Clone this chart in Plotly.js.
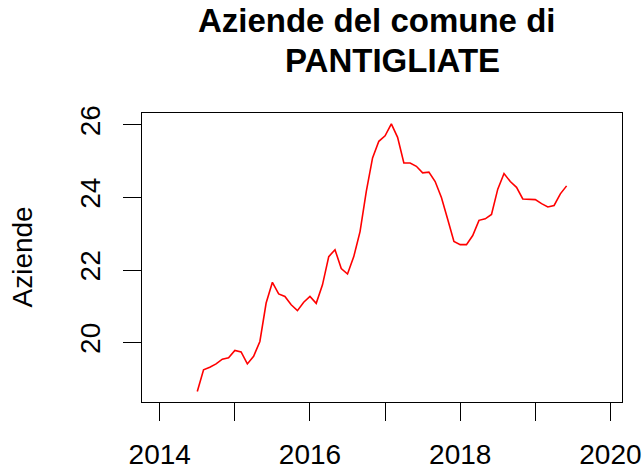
<!DOCTYPE html>
<html>
<head>
<meta charset="utf-8">
<script src="https://cdn.plot.ly/plotly-3.0.1.min.js"></script>
<style>html,body{margin:0;padding:0;background:#fff;}#chart{width:644px;height:469px;}</style>
</head>
<body>
<div id="chart"></div>
<script>
// Monthly observations (year-month)
const months = [
  "2014-07","2014-08","2014-09","2014-10","2014-11","2014-12",
  "2015-01","2015-02","2015-03","2015-04","2015-05","2015-06","2015-07","2015-08","2015-09","2015-10","2015-11","2015-12",
  "2016-01","2016-02","2016-03","2016-04","2016-05","2016-06","2016-07","2016-08","2016-09","2016-10","2016-11","2016-12",
  "2017-01","2017-02","2017-03","2017-04","2017-05","2017-06","2017-07","2017-08","2017-09","2017-10","2017-11","2017-12",
  "2018-01","2018-02","2018-03","2018-04","2018-05","2018-06","2018-07","2018-08","2018-09","2018-10","2018-11","2018-12",
  "2019-01","2019-02","2019-03","2019-04","2019-05","2019-06"
];
const aziende = [
  18.65,19.25,19.32,19.41,19.54,19.58,
  19.78,19.74,19.41,19.62,20.03,21.09,21.66,21.34,21.27,21.04,20.88,21.11,
  21.27,21.08,21.59,22.37,22.56,22.04,21.89,22.37,23.06,24.17,25.09,25.55,
  25.70,26.03,25.66,24.95,24.95,24.86,24.68,24.70,24.44,24.00,23.40,22.79,
  22.70,22.70,22.95,23.37,23.41,23.53,24.23,24.66,24.44,24.28,23.96,23.96,
  23.94,23.83,23.74,23.78,24.10,24.32
];
const xTickVals = [2014,2015,2016,2017,2018,2019,2020];
const xTickText = ["2014","","2016","","2018","","2020"];
const yTickVals = [20,22,24,26];
const yTickText = ["20","22","24","26"];
const titleLine1 = "Aziende del comune di";
const titleLine2 = "PANTIGLIATE";
const yLabel = "Aziende";

// time in decimal years (like an R ts time axis)
const xTime = months.map(m => { const [y, mo] = m.split("-").map(Number); return y + (mo - 1) / 12; });

const FONT = "Liberation Sans, Arial, Helvetica, sans-serif";

const trace = {
  x: xTime, y: aziende, type: "scatter", mode: "lines",
  line: {color: "#ff0000", width: 1.6},
  hoverinfo: "skip"
};

const layout = {
  width: 644, height: 469,
  margin: {l: 142, r: 22, t: 113, b: 67, pad: 0},
  paper_bgcolor: "#ffffff", plot_bgcolor: "#ffffff",
  showlegend: false,
  font: {family: FONT, color: "#000000", size: 28},
  title: {
    text: titleLine1,
    font: {family: FONT, size: 33, color: "#000000", weight: "bold"},
    x: 376.7 / 644, xref: "container", xanchor: "center",
    y: 0.981, yref: "container", yanchor: "top"
  },
  xaxis: {
    range: [2013.764, 2020.154],
    tickmode: "array", tickvals: xTickVals, ticktext: xTickText,
    ticks: "outside", ticklen: 18, tickwidth: 1, tickcolor: "#000",
    showline: true, mirror: true, linecolor: "#000", linewidth: 1,
    showgrid: false, zeroline: false,
    tickfont: {family: FONT, size: 28, color: "#000"},
    ticklabelstandoff: 9
  },
  yaxis: {
    range: [18.36, 26.33],
    tickmode: "array", tickvals: yTickVals, ticktext: yTickText,
    tickangle: -90,
    ticks: "outside", ticklen: 18, tickwidth: 1, tickcolor: "#000",
    showline: true, mirror: true, linecolor: "#000", linewidth: 1,
    showgrid: false, zeroline: false,
    tickfont: {family: FONT, size: 28, color: "#000"},
    ticklabelstandoff: 12
  },
  annotations: [{
    text: yLabel, textangle: -90,
    xref: "paper", yref: "paper", x: 0, y: 0.5,
    xanchor: "center", yanchor: "middle",
    xshift: -120, showarrow: false,
    font: {family: FONT, size: 28, color: "#000"}
  }, {
    text: titleLine2,
    xref: "paper", yref: "paper", x: (392.7 - 142) / 480, y: 1,
    xanchor: "center", yanchor: "middle",
    yshift: 52.5, showarrow: false,
    font: {family: FONT, size: 33, color: "#000", weight: "bold"}
  }]
};

Plotly.newPlot("chart", [trace], layout, {displayModeBar: false, staticPlot: true});
</script>
</body>
</html>
